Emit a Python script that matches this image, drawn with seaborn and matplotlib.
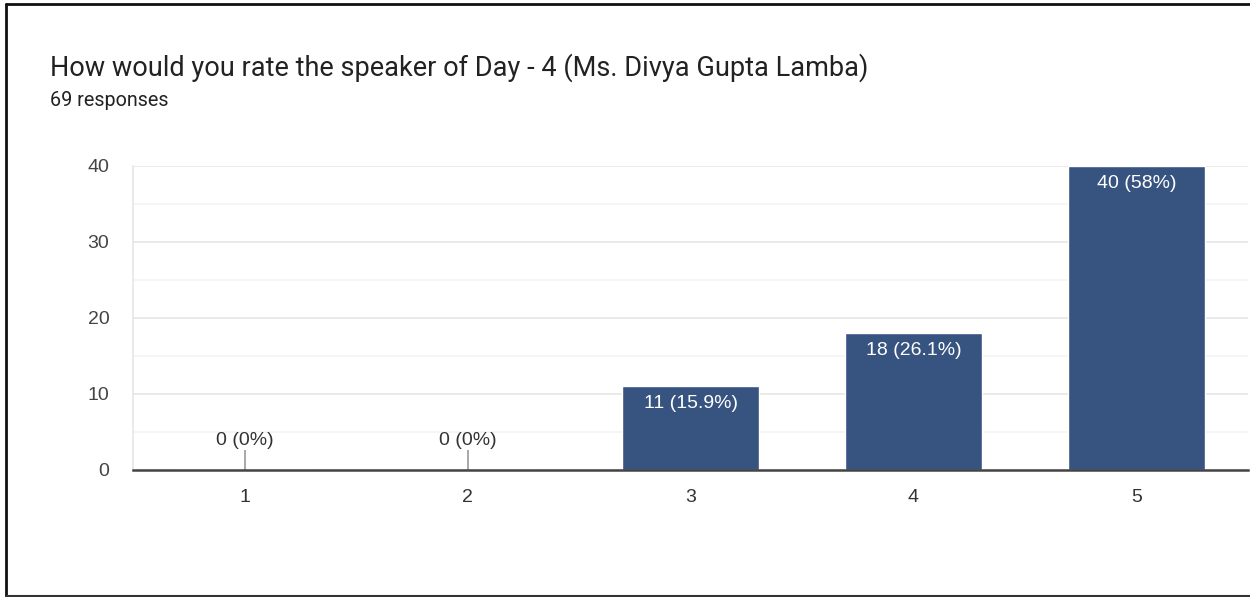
import matplotlib
matplotlib.use("Agg")
import matplotlib.pyplot as plt
import seaborn as sns
import pandas as pd
from matplotlib.lines import Line2D

# data
ratings = ["1", "2", "3", "4", "5"]
counts = [0, 0, 11, 18, 40]
total_responses = 69

title = "How would you rate the speaker of Day - 4 (Ms. Divya Gupta Lamba)"
subtitle = f"{total_responses} responses"

bar_color = "#375380"

sns.set_theme(style="white")
plt.rcParams["font.family"] = ["Liberation Sans", "DejaVu Sans"]

df = pd.DataFrame({"rating": ratings, "count": counts})

fig = plt.figure(figsize=(12.5, 5.97), dpi=100)
ax = fig.add_axes([133 / 1250, 127 / 597, 1115 / 1250, 304 / 597])

sns.barplot(data=df, x="rating", y="count", order=ratings, color=bar_color,
            width=0.615, saturation=1, ax=ax)

ax.set_xlim(-0.5, 4.5)
ax.set_ylim(0, 40)
ax.set_yticks([0, 10, 20, 30, 40])
ax.set_yticks([5, 15, 25, 35], minor=True)
ax.grid(axis="y", which="major", color="#e6e6e6", lw=1.2)
ax.grid(axis="y", which="minor", color="#f3f3f3", lw=1.2)
ax.set_axisbelow(True)
ax.set_xlabel("")
ax.set_ylabel("")
ax.tick_params(axis="both", which="both", length=0)
ax.tick_params(axis="y", pad=17, labelsize=14, labelcolor="#444444")
ax.tick_params(axis="x", pad=14, labelsize=14, labelcolor="#333333")

for s in ["top", "right"]:
    ax.spines[s].set_visible(False)
ax.spines["left"].set_color("#e6e6e6")
ax.spines["left"].set_linewidth(1.2)
ax.spines["bottom"].set_color("#444444")
ax.spines["bottom"].set_linewidth(1.8)

# labels on the bars
for i, v in enumerate(counts):
    pct = round(100 * v / total_responses, 1)
    pct_txt = f"{pct:g}"
    label = f"{v} ({pct_txt}%)"
    if v == 0:
        ax.vlines(i, 0, 2.6, color="#999999", lw=1.2)
        ax.text(i, 2.8, label, ha="center", va="bottom", fontsize=14,
                color="#333333")
    else:
        ax.annotate(label, (i, v), xytext=(0, -9), textcoords="offset pixels",
                    ha="center", va="top", fontsize=14, color="white")

fig.text(50 / 1250, 1 - 68 / 597, title, fontsize=19.5, color="#222222",
         va="center", ha="left", family="Roboto")
fig.text(50 / 1250, 1 - 101 / 597, subtitle, fontsize=14.2, color="#222222",
         va="center", ha="left", family="Roboto")

# screenshot frame
fig.add_artist(Line2D([6 / 1250, 6 / 1250], [0.5 / 597, 1 - 4 / 597],
                      transform=fig.transFigure, color="#111111", lw=2))
fig.add_artist(Line2D([6 / 1250, 1], [1 - 4 / 597, 1 - 4 / 597],
                      transform=fig.transFigure, color="#111111", lw=2))
fig.add_artist(Line2D([6 / 1250, 1], [1 / 597, 1 / 597],
                      transform=fig.transFigure, color="#333333", lw=1.5))

fig.savefig("out.png", dpi=100)
